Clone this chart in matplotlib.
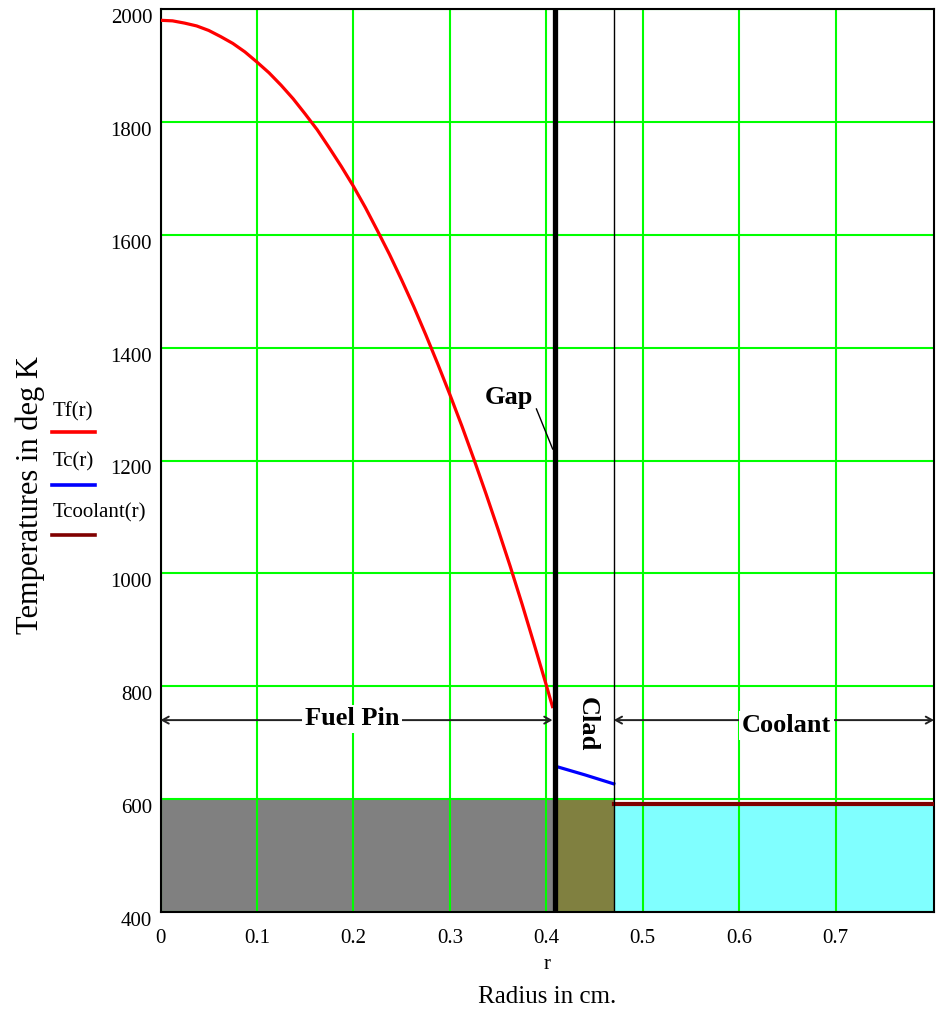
import matplotlib
matplotlib.use("Agg")
import matplotlib.pyplot as plt
from matplotlib.lines import Line2D

# Radial temperature profile of a fuel pin, its cladding and the coolant
r_fuel = [0.0, 0.0125, 0.025, 0.0375, 0.05, 0.0625, 0.075, 0.0875, 0.1, 0.1125,
          0.125, 0.1375, 0.15, 0.1625, 0.175, 0.1875, 0.2, 0.2125, 0.225, 0.2375,
          0.25, 0.2625, 0.275, 0.2875, 0.3, 0.3125, 0.325, 0.3375, 0.35, 0.3625,
          0.375, 0.3875, 0.4, 0.4064]
T_fuel = [1980, 1979, 1975, 1970, 1962, 1951, 1939, 1924, 1906, 1887,
          1865, 1841, 1814, 1786, 1754, 1721, 1686, 1648, 1607, 1565,
          1520, 1473, 1423, 1371, 1317, 1261, 1202, 1141, 1078, 1013,
          945, 874, 802, 764]

r_clad = [0.412, 0.426, 0.440, 0.455, 0.470]
T_clad = [657, 650, 643, 635, 627]

r_cool = [0.470, 0.802]
T_cool = [591, 591]

# Region boundaries (cm) and band tops (K)
r_gap = 0.409
r_clad_out = 0.470
r_max = 0.802
T_min, T_max = 400, 2000
band_top_solid = 600
band_top_coolant = 588

x_ticks = [0, 0.1, 0.2, 0.3, 0.4, 0.5, 0.6, 0.7]
x_tick_labels = ["0", "0.1", "0.2", "0.3", "0.4", "0.5", "0.6", "0.7"]
y_ticks = [400, 600, 800, 1000, 1200, 1400, 1600, 1800, 2000]
y_tick_labels = [str(v) for v in y_ticks]

series_names = ["Tf(r)", "Tc(r)", "Tcoolant(r)"]
series_colors = ["#ff0000", "#0000ff", "#800000"]

SERIF = "Liberation Serif"
W, H = 937, 1010
fig = plt.figure(figsize=(W / 100, H / 100), dpi=100)
fig.patch.set_facecolor("white")


def fx(px):
    return px / W


def fy(py):
    return 1 - py / H


ax = fig.add_axes([fx(160.5), fy(912), (934 - 160.5) / W, (912 - 9) / H])
ax.set_xlim(0, r_max)
ax.set_ylim(T_min, T_max)

# Material bands
ax.fill_between([0, r_gap], T_min, band_top_solid, color="#808080", lw=0, zorder=1)
ax.fill_between([r_gap, r_clad_out], T_min, band_top_solid, color="#808040", lw=0, zorder=1)
ax.fill_between([r_clad_out, r_max], T_min, band_top_coolant, color="#80ffff", lw=0, zorder=1)

# Grid
ax.set_xticks(x_ticks)
ax.set_xticklabels(x_tick_labels)
ax.set_yticks(y_ticks)
ax.set_yticklabels(y_tick_labels)
ax.grid(True, color="#00ff00", lw=1.5)
ax.set_axisbelow("line")
ax.tick_params(length=0)
ax.tick_params(axis="y", pad=6)
ax.tick_params(axis="x", pad=12)
for lbl in ax.get_yticklabels():
    lbl.set_fontfamily(SERIF)
    lbl.set_fontsize(15)
    lbl.set_verticalalignment("top")
for lbl in ax.get_xticklabels():
    lbl.set_fontfamily(SERIF)
    lbl.set_fontsize(15)

for s in ax.spines.values():
    s.set_color("black")
    s.set_linewidth(1.5)

# Temperature curves
ax.plot(r_fuel, T_fuel, color=series_colors[0], lw=2.3, zorder=3)
ax.plot(r_clad, T_clad, color=series_colors[1], lw=2.3, zorder=3)
ax.plot(r_cool, T_cool, color=series_colors[2], lw=3.0, zorder=3)

# Gap and cladding boundaries
ax.axvline(r_gap, color="black", lw=3.8, zorder=4)
ax.axvline(r_clad_out, color="black", lw=1.0, zorder=4)

# Region annotations
arrow_kw = dict(arrowstyle="<->,head_length=0.45,head_width=0.25", color="#222222", lw=1.4,
                shrinkA=0, shrinkB=0)
ax.annotate("", xy=(0.0, 740), xytext=(0.4064, 740), arrowprops=arrow_kw, zorder=5)
ax.annotate("", xy=(r_clad_out, 740), xytext=(r_max, 740), arrowprops=arrow_kw, zorder=5)

label_kw = dict(family=SERIF, fontsize=19, fontweight="bold", zorder=6)
ax.text(0.1985, 742, "Fuel Pin", ha="center", va="center",
        bbox=dict(facecolor="white", edgecolor="none", pad=2), **label_kw)
ax.text(0.649, 730, "Coolant", ha="center", va="center",
        bbox=dict(facecolor="white", edgecolor="none", pad=2), **label_kw)
ax.text(0.4425, 732, "Clad", ha="center", va="center", rotation=-90, **label_kw)
ax.annotate("Gap", xy=(0.4067, 1220), xytext=(0.3617, 1312), ha="center", va="center",
            arrowprops=dict(arrowstyle="-", color="black", lw=1.0, shrinkA=0, shrinkB=0,
                            relpos=(1.0, 0.3)),
            **label_kw)

# Axis titles
ax.set_xlabel("r", family=SERIF, fontsize=15)
ax.xaxis.set_label_coords(0.5, -0.048)
ax.text(0.5, -0.082, "Radius in cm.", transform=ax.transAxes, ha="center", va="top",
        family=SERIF, fontsize=18)
fig.text(fx(30), fy(495), "Temperatures in deg K", rotation=90, ha="center", va="center",
         family=SERIF, fontsize=22)

# Legend: label above its line sample
legend_text_y = [412, 462, 513]
legend_line_y = [432, 485, 535]
for name, color, ty, ly in zip(series_names, series_colors, legend_text_y, legend_line_y):
    fig.text(fx(53), fy(ty), name, ha="left", va="center", family=SERIF, fontsize=15)
    fig.add_artist(Line2D([fx(52), fx(95)], [fy(ly), fy(ly)], color=color, lw=2.6,
                          transform=fig.transFigure))

fig.savefig("out.png", dpi=100)
